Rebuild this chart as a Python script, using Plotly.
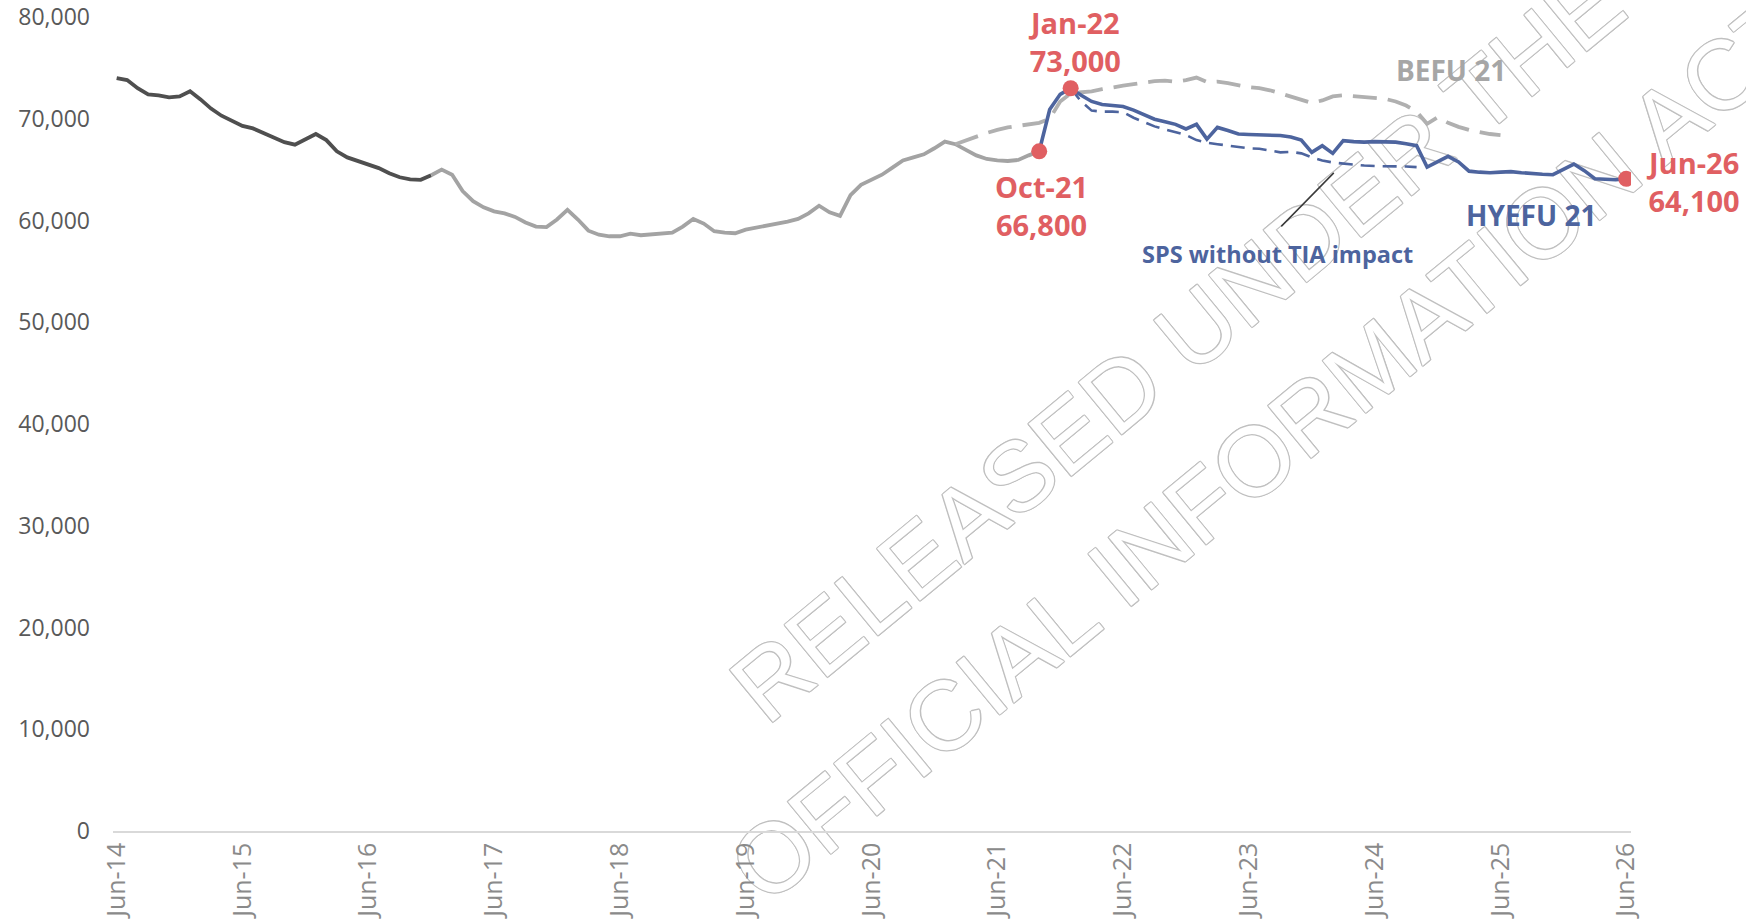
import plotly.graph_objects as go

# Month index 0 = Jun-14, 144 = Jun-26
tick_months = [0, 12, 24, 36, 48, 60, 72, 84, 96, 108, 120, 132, 144]
tick_labels = ["Jun-14", "Jun-15", "Jun-16", "Jun-17", "Jun-18", "Jun-19", "Jun-20",
               "Jun-21", "Jun-22", "Jun-23", "Jun-24", "Jun-25", "Jun-26"]

# Actuals, earlier period (Jun-14 .. Dec-16)
early_months = list(range(0, 31))
early_vals = [74000, 73800, 73000, 72400, 72300, 72100, 72200, 72700, 71900, 71000,
              70300, 69800, 69300, 69050, 68600, 68200, 67700, 67450, 68000, 68500,
              67900, 66800, 66200, 65850, 65500, 65150, 64650, 64250, 64050, 64000,
              64450]

# Actuals, later period (Dec-16 .. Oct-21)
late_months = list(range(30, 89))
late_vals = [64450, 65000, 64500, 62900, 61900, 61300, 60900, 60700, 60350, 59800,
             59400, 59350, 60100, 61050, 60100, 59000, 58600, 58450, 58450, 58700,
             58550, 58650, 58750, 58800, 59400, 60150, 59700, 58950, 58800, 58750,
             59100, 59300, 59500, 59650, 59900, 60150, 60700, 61450, 60800, 60450,
             62500, 63500, 64000, 64500, 65200, 65900, 66200, 66500, 67100, 67750,
             67500, 66950, 66400, 66050, 65900, 65850, 65950, 66400, 66800]

# BEFU 21 forecast
befu_months = list(range(80, 133))
befu_vals = [67500, 67900, 68300, 68600, 68900, 69150, 69300, 69450, 69600, 70000,
             71700, 72500, 72600, 72700, 72900, 73100, 73250, 73400, 73550, 73700,
             73750, 73650, 73800, 74050, 73600, 73650, 73500, 73300, 73100, 73000,
             72800, 72500, 72200, 71900, 71550, 71800, 72200, 72300, 72200, 72100,
             72000, 71950, 71700, 71300, 70700, 69500, 70150, 69600, 69200, 68900,
             68700, 68500, 68400]

# HYEFU 21 forecast
hyefu_months = list(range(88, 145))
hyefu_vals = [66800, 70900, 72400, 73000, 72300, 71700, 71400, 71300, 71200, 70850,
              70400, 69950, 69700, 69450, 69000, 69450, 68000, 69150, 68850, 68500,
              68450, 68400, 68400, 68350, 68200, 67900, 66700, 67350, 66600, 67850,
              67750, 67700, 67750, 67750, 67700, 67550, 67350, 65250, 65750, 66300,
              65750, 64850, 64750, 64700, 64750, 64800, 64700, 64600, 64550, 64500,
              65000, 65550, 64900, 64100, 64050, 64000, 64100]

# SPS without TIA impact
sps_months = list(range(91, 125))
sps_vals = [73000, 71700, 70800, 70700, 70700, 70650, 70100, 69700, 69250, 68950,
            68700, 68400, 67900, 67650, 67500, 67350, 67200, 67100, 67050, 66900,
            66700, 66750, 66600, 66200, 65900, 65700, 65600, 65450, 65400, 65350,
            65350, 65300, 65300, 65250]

# Highlighted points
key_months = [88, 91, 144]
key_labels = ["Oct-21", "Jan-22", "Jun-26"]
key_vals = [66800, 73000, 64100]

# Watermark lines
watermark_lines = ["RELEASED UNDER THE", "OFFICIAL INFORMATION ACT"]

DARK = "#4f4f4f"
LIGHT = "#a3a3a3"
BEFU_C = "#b0b0b0"
BLUE = "#4d649e"
RED = "#e05f62"
FONT = "Open Sans"

fig = go.Figure()
fig.add_trace(go.Scatter(x=early_months, y=early_vals, mode="lines",
                         line=dict(color=DARK, width=3.8), hoverinfo="skip"))
fig.add_trace(go.Scatter(x=late_months, y=late_vals, mode="lines",
                         line=dict(color=LIGHT, width=3.8), hoverinfo="skip"))
fig.add_trace(go.Scatter(x=befu_months, y=befu_vals, mode="lines",
                         line=dict(color=BEFU_C, width=3.8, dash="24px,11px"),
                         hoverinfo="skip"))
fig.add_trace(go.Scatter(x=sps_months, y=sps_vals, mode="lines",
                         line=dict(color=BLUE, width=2.6, dash="14px,8px"),
                         hoverinfo="skip"))
fig.add_trace(go.Scatter(x=hyefu_months, y=hyefu_vals, mode="lines",
                         line=dict(color=BLUE, width=3.6), hoverinfo="skip"))
fig.add_trace(go.Scatter(x=key_months, y=key_vals, mode="markers",
                         marker=dict(color=RED, size=16), hoverinfo="skip"))

# Outlined watermark lettering, kept underneath the data lines
outline = ", ".join(f"{dx}px {dy}px 0 #c0c0c0" for dx, dy in
                    [(1, 0), (-1, 0), (0, 1), (0, -1), (1, 1), (-1, -1), (1, -1), (-1, 1)])
wm_centres = [(0.6973, 0.6063), (0.758, 0.479)]
for txt, (cx, cy) in zip(watermark_lines, wm_centres):
    fig.add_shape(
        type="line", xref="paper", yref="paper",
        x0=cx - 0.005, x1=cx + 0.005, y0=cy, y1=cy,
        line=dict(color="rgba(0,0,0,0)", width=1), layer="below",
        label=dict(text=txt, textangle=-39.5, textposition="middle",
                   xanchor="center", yanchor="middle", padding=0,
                   font=dict(family="Liberation Sans", size=98, color="white",
                             shadow=outline)),
    )

annotations = []

# Value call-outs for the highlighted points
label_pos = {
    "Oct-21": dict(xanchor="center", yanchor="top", xshift=2, yshift=-14),
    "Jan-22": dict(xanchor="center", yanchor="bottom", xshift=4, yshift=6),
    "Jun-26": dict(xanchor="left", yanchor="middle", xshift=18, yshift=-3),
}
for m, lab, v in zip(key_months, key_labels, key_vals):
    annotations.append(dict(
        x=m, y=v, xref="x", yref="y", showarrow=False,
        text=f"{lab}<br>{v:,}", align="center",
        font=dict(family=FONT, size=29, color=RED, weight="bold"),
        **label_pos[lab]))

# Series labels
annotations.append(dict(x=127.3, y=74760, xref="x", yref="y", showarrow=False,
                        text="BEFU 21",
                        font=dict(family=FONT, size=28, color="#a6a6a6", weight="bold")))
annotations.append(dict(x=134.9, y=60510, xref="x", yref="y", showarrow=False,
                        text="HYEFU 21",
                        font=dict(family=FONT, size=28, color=BLUE, weight="bold")))
annotations.append(dict(x=110.7, y=56680, xref="x", yref="y", showarrow=False,
                        text="SPS without TIA impact",
                        font=dict(family=FONT, size=23.5, color=BLUE, weight="bold")))
# Leader line to the dashed series
annotations.append(dict(x=116.1, y=64680, xref="x", yref="y", text="",
                        showarrow=True, arrowhead=0, arrowwidth=1.5,
                        arrowcolor="#3a3a3a", ax=-54, ay=55, standoff=0))

fig.update_layout(
    width=1746, height=923,
    margin=dict(l=113, r=115, t=17, b=92),
    paper_bgcolor="white", plot_bgcolor="white",
    showlegend=False,
    annotations=annotations,
    xaxis=dict(range=[-0.35, 144.45], tickmode="array", tickvals=tick_months,
               ticktext=tick_labels, tickangle=-90, showgrid=False, zeroline=False,
               showline=True, linecolor="#d9d9d9", linewidth=1.5, ticks="",
               tickfont=dict(family=FONT, size=25, color="#8a8a8a"),
               automargin=False),
    yaxis=dict(range=[0, 80000], tickmode="array",
               tickvals=[0, 10000, 20000, 30000, 40000, 50000, 60000, 70000, 80000],
               tickformat=",", showgrid=False, zeroline=False, showline=False,
               ticks="", ticklabelstandoff=22,
               tickfont=dict(family=FONT, size=23, color="#595959"),
               automargin=False),
)

fig.write_html("out.html")
